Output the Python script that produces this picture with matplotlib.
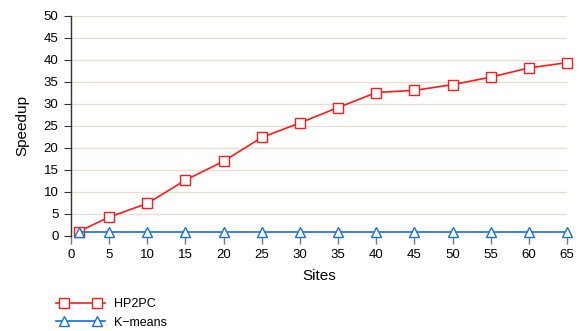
import matplotlib
matplotlib.use("Agg")
import matplotlib.pyplot as plt
from matplotlib.legend_handler import HandlerBase
from matplotlib.lines import Line2D

plt.rcParams['font.family'] = ['Liberation Sans', 'DejaVu Sans']

sites = [1, 5, 10, 15, 20, 25, 30, 35, 40, 45, 50, 55, 60, 65]
hp2pc = [1.0, 4.3, 7.4, 12.7, 17.0, 22.4, 25.7, 29.2, 32.6, 33.1, 34.4, 36.1, 38.2, 39.4]
kmeans = [1.0] * len(sites)
xticks = list(range(0, 70, 5))
yticks = list(range(0, 55, 5))


class TwoMarkerHandler(HandlerBase):
    # line runs the full handle width, the two markers sit a bit inside
    def create_artists(self, legend, orig_handle, xdescent, ydescent,
                       width, height, fontsize, trans):
        y = (height - ydescent) / 2
        x0, x1 = -xdescent, -xdescent + width
        pad = 0.65 * fontsize
        line = Line2D([x0, x1], [y, y])
        self.update_prop(line, orig_handle, legend)
        line.set_marker('None')
        marks = Line2D([x0 + pad, x1 - pad], [y, y])
        self.update_prop(marks, orig_handle, legend)
        marks.set_linestyle('None')
        line.set_transform(trans)
        marks.set_transform(trans)
        return [line, marks]


fig = plt.figure(figsize=(5.79, 3.31), dpi=100)
ax = fig.add_axes([71/579, 1 - 236/331, (567-71)/579, (236-16)/331])

for y in yticks:
    ax.axhline(y, color='#eddcd2' if y else '#e3c9b8', lw=1.0, zorder=0)

l1, = ax.plot(sites, hp2pc, color='#ff1a1a', lw=1.2, marker='s', ms=6.5,
              mfc='white', mec='#ff1a1a', mew=1.0, label='HP2PC', clip_on=False, zorder=3)
l2, = ax.plot(sites, kmeans, color='#1a70d2', lw=1.2, marker='^', ms=7,
              mfc='white', mec='#1a70d2', mew=1.0, label='K\u2212means', clip_on=False, zorder=4)

ax.set_xlim(0, 65)
ax.set_ylim(0, 50)
ax.set_xticks(xticks)
ax.set_yticks(yticks)
for s in ['top', 'right', 'bottom']:
    ax.spines[s].set_visible(False)
ax.spines['left'].set_color('#333333')
ax.spines['left'].set_linewidth(1.0)
ax.tick_params(axis='y', length=5, color='#333333', labelsize=9.5, pad=4)
ax.tick_params(axis='x', length=6, color='#777777', labelsize=9.5, pad=3, width=1.0)
ax.set_xlabel('Sites', fontsize=11, labelpad=6)
ax.set_ylabel('Speedup', fontsize=11, labelpad=10)

fig.legend(handles=[l1, l2], loc='upper left', bbox_to_anchor=(45/579, 1 - 287/331),
           frameon=False, handlelength=3.9, fontsize=9, labelspacing=0.5,
           handletextpad=0.7, handler_map={l1: TwoMarkerHandler(), l2: TwoMarkerHandler()})

fig.savefig('out.png', dpi=100)
